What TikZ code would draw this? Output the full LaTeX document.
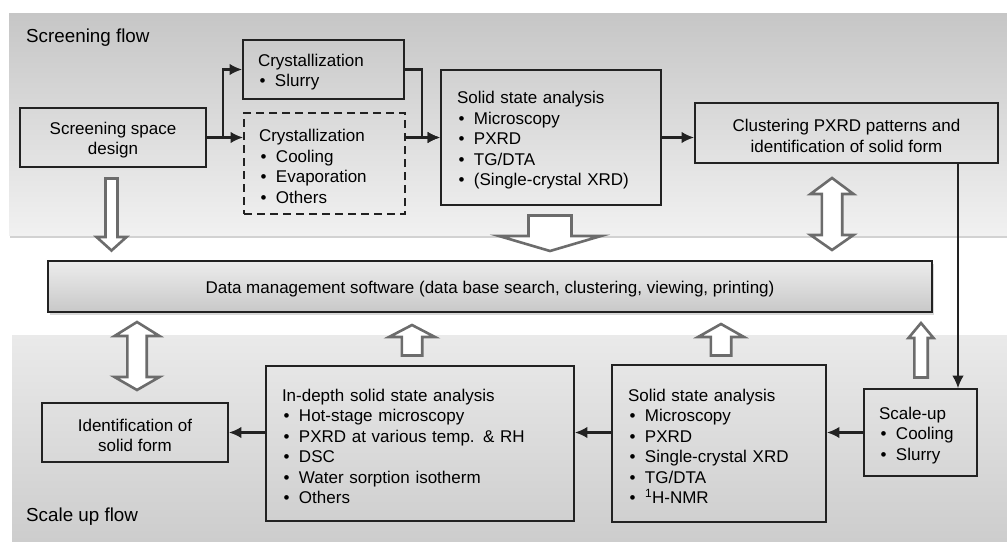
\documentclass[tikz,border=0pt]{standalone}
\usepackage{fontspec}
\setmainfont{Liberation Sans}
\usetikzlibrary{arrows.meta,shadows}

\definecolor{boxline}{HTML}{222222}
\definecolor{hollowgray}{HTML}{6C6C6C}
\definecolor{screenTop}{HTML}{C6C6C6}
\definecolor{screenBot}{HTML}{F1F1F1}
\definecolor{scaleTop}{HTML}{EAEAEA}
\definecolor{scaleBot}{HTML}{CDCDCD}
\definecolor{dataTop}{HTML}{EDEDED}
\definecolor{dataBot}{HTML}{C8C8C8}

\newcommand\diagboxfont{\fontsize{17}{20.5}\selectfont}
\newcommand\diagtitlefont{\fontsize{18.8}{22}\selectfont}
% strut for the first line of a box, lowering the text block a little
\newcommand\fl{\rule{0pt}{18pt}}
% bulleted line inside a box
\newcommand\itm[1]{\makebox[17pt][l]{\hspace{1.5pt}\textbullet}#1}
% single hollow block arrow: centre x, shaft half width, head half width, shaft end, head base, tip
\newcommand\blockarrow[6]{%
  \draw[hollow] (#1-#2,#4) -- (#1+#2,#4) -- (#1+#2,#5) -- (#1+#3,#5) -- (#1,#6)
    -- (#1-#3,#5) -- (#1-#2,#5) -- cycle;}
% double-headed hollow block arrow: centre x, shaft half width, head half width, tip1, base1, base2, tip2
\newcommand\blockboth[7]{%
  \draw[hollow] (#1,#4) -- (#1+#3,#5) -- (#1+#2,#5) -- (#1+#2,#6) -- (#1+#3,#6) -- (#1,#7)
    -- (#1-#3,#6) -- (#1-#2,#6) -- (#1-#2,#5) -- (#1-#3,#5) -- cycle;}

\begin{document}
\begin{tikzpicture}[x=1pt,y=-1pt,
  box/.style={draw=boxline, line width=1.8pt, inner ysep=0pt, font=\diagboxfont},
  cbox/.style={box, align=center, inner xsep=0pt},
  lbox/.style={box, align=left, inner xsep=15pt},
  arr/.style={draw=boxline, line width=2.1pt, -{Latex[length=12.5pt,width=11.5pt]}},
  thinarr/.style={draw=boxline, line width=1.5pt, -{Latex[length=12.5pt,width=11.5pt]}},
  hollow/.style={draw=hollowgray, fill=white, line width=2.6pt, line join=miter},
  paneltitle/.style={anchor=west, inner sep=0pt, font=\diagtitlefont}]

\useasboundingbox (0,0) rectangle (1007,541);
\fill[white] (0,0) rectangle (1007,541);

% the two flow panels
\path[top color=screenTop, bottom color=screenBot,
      drop shadow={shadow xshift=1pt, shadow yshift=-2.5pt, opacity=0.35}]
  (9,13) rectangle (1007,235);
\path[top color=scaleTop, bottom color=scaleBot] (12,335) rectangle (1007,541);

\node[paneltitle] (screentitle) at (26,38) {Screening flow};
\node[paneltitle] (scaletitle) at (26,517) {Scale up flow};

% screening flow
\node[cbox, minimum width=186pt, minimum height=59pt] (design) at (113,137.5)
  {\fl Screening space\\design};
\node[lbox, text width=131pt, minimum height=59pt] (slurry) at (323.5,69.5)
  {\fl Crystallization\\\itm{Slurry}};
\node[lbox, dash pattern=on 8pt off 5pt, text width=131pt, minimum height=101pt] (cryst) at (324.5,163.5)
  {\fl Crystallization\\\itm{Cooling}\\\itm{Evaporation}\\\itm{Others}};
\node[lbox, inner xsep=16pt, text width=188pt, minimum height=135pt] (ssa1) at (551,137.5)
  {\fl Solid state analysis\\\itm{Microscopy}\\\itm{PXRD}\\\itm{TG/DTA}\\\itm{(Single-crystal XRD)}};
\node[cbox, minimum width=303pt, minimum height=60pt] (clus) at (846.5,133)
  {\fl Clustering PXRD patterns and\\identification of solid form};

% data management
\node[cbox, top color=dataTop, bottom color=dataBot,
      drop shadow={shadow xshift=2pt, shadow yshift=-2.5pt, opacity=0.3},
      minimum width=884pt, minimum height=51pt] (data) at (490,286.5)
  {\fl Data management software (data base search, clustering, viewing, printing)};

% scale up flow
\node[cbox, minimum width=186pt, minimum height=59pt] (ident) at (135,432.5)
  {\fl Identification of\\solid form};
\node[lbox, inner xsep=16pt, text width=276pt, minimum height=155pt] (indepth) at (420,443.5)
  {\fl In-depth solid state analysis\\\itm{Hot-stage microscopy}\\\itm{PXRD at various temp. \& RH}\\\itm{DSC}\\\itm{Water sorption isotherm}\\\itm{Others}};
\node[lbox, inner xsep=16pt, text width=182pt, minimum height=157pt] (ssa2) at (719,443.5)
  {\fl Solid state analysis\\\itm{Microscopy}\\\itm{PXRD}\\\itm{Single-crystal XRD}\\\itm{TG/DTA}\\\itm{\textsuperscript{1}H-NMR}};
\node[lbox, text width=83pt, minimum height=87pt] (scale) at (920.5,432.5)
  {\fl Scale-up\\\itm{Cooling}\\\itm{Slurry}};

% connectors of the screening flow
\coordinate (split) at (223,137.5);
\coordinate (merge) at (422,137.5);
\coordinate (drop) at (958,0);
\draw[arr] (design.east) -- (design.east -| cryst.west);
\draw[arr] (split) |- (slurry.west);
\draw[arr] (slurry.east) -| (merge) -- (ssa1.west);
\draw[arr] (cryst.east |- ssa1.west) -- (ssa1.west);
\draw[arr] (ssa1.east) -- (ssa1.east -| clus.west);
\draw[thinarr] (clus.south -| drop) -- (scale.north -| drop);

% connectors of the scale up flow
\draw[arr] (scale.west) -- (ssa2.east |- scale.west);
\draw[arr] (ssa2.west |- ident.east) -- (indepth.east |- ident.east);
\draw[arr] (indepth.west |- ident.east) -- (ident.east);

% hollow arrows to and from the data management software
\blockarrow{111.5}{6}{15}{178.5}{237}{250.5}
\blockarrow{550}{21.5}{51}{215.5}{236}{251}
\blockboth{832}{10.2}{21.5}{178}{194}{235}{250}
\blockboth{137}{9.7}{22.5}{322}{336}{377}{390}
\blockarrow{412}{10.2}{23}{355.5}{337}{325}
\blockarrow{721}{10.2}{23}{355.5}{337}{324}
\blockarrow{921}{6.7}{12.5}{377.5}{338}{323}

\end{tikzpicture}
\end{document}
